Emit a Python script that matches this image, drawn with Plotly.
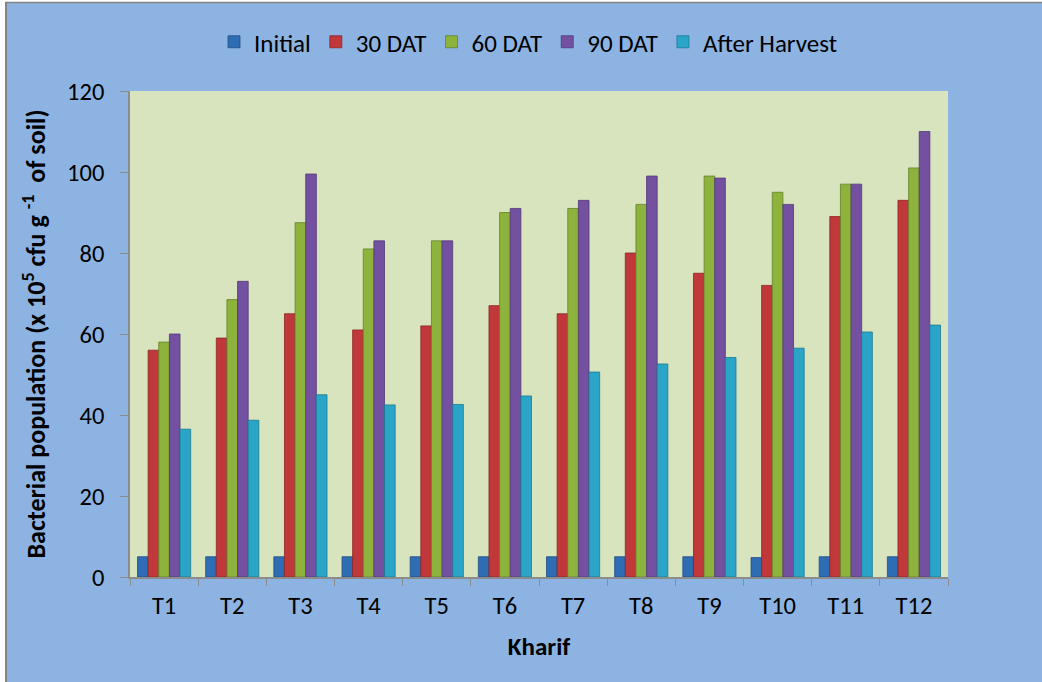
import plotly.graph_objects as go

# Treatments (Kharif season)
treatments = ["T1", "T2", "T3", "T4", "T5", "T6", "T7", "T8", "T9", "T10", "T11", "T12"]

# Bacterial population (x 10^5 cfu g-1 of soil) at each sampling stage
initial = [5, 5, 5, 5, 5, 5, 5, 5, 5, 4.8, 5, 5]
dat_30 = [56, 59, 65, 61, 62, 67, 65, 80, 75, 72, 89, 93]
dat_60 = [58, 68.5, 87.5, 81, 83, 90, 91, 92, 99, 95, 97, 101]
dat_90 = [60, 73, 99.5, 83, 83, 91, 93, 99, 98.5, 92, 97, 110]
after_harvest = [36.5, 38.7, 45, 42.5, 42.6, 44.7, 50.6, 52.6, 54.2, 56.5, 60.5, 62.2]

series = [
    ("Initial", initial, "#2E6CB3", "#1F4E85"),
    ("30 DAT", dat_30, "#C0383A", "#8E2426"),
    ("60 DAT", dat_60, "#8DB33C", "#63822A"),
    ("90 DAT", dat_90, "#7351A0", "#523877"),
    ("After Harvest", after_harvest, "#2AA5C8", "#1B7892"),
]

FONT = "Carlito, Calibri, Lato, 'Open Sans', sans-serif"
FS_LEGEND = 25
FS_TICK = 24.5
FS_TITLE = 25
FS_YTITLE = 26

fig = go.Figure()
for name, vals, fill, edge in series:
    fig.add_trace(go.Bar(
        name=name, x=treatments, y=vals,
        marker=dict(color=fill, line=dict(color=edge, width=0.8)),
    ))

# plot-area geometry in pixels, used for the outer frame and legend placement
L, R, T, B = 130, 948, 91, 577
W, H = R - L, B - T
def px(x):
    return (x - L) / W
def py(y):
    return (B - y) / H

shapes = [
    # white strip to the left and above the frame
    dict(type="rect", xref="paper", yref="paper", x0=px(-20), x1=px(5), y0=py(720), y1=py(-20),
         fillcolor="white", line=dict(width=0), layer="above"),
    dict(type="rect", xref="paper", yref="paper", x0=px(-20), x1=px(1100), y0=py(2), y1=py(-20),
         fillcolor="white", line=dict(width=0), layer="above"),
    # frame border
    dict(type="line", xref="paper", yref="paper", x0=px(6), x1=px(6), y0=py(2.5), y1=py(720),
         line=dict(color="#858585", width=2), layer="above"),
    dict(type="line", xref="paper", yref="paper", x0=px(5), x1=px(1100), y0=py(2.5), y1=py(2.5),
         line=dict(color="#858585", width=1.5), layer="above"),
]

fig.update_layout(
    width=1042, height=682,
    margin=dict(l=L, r=1042 - R, t=T, b=682 - B, pad=0),
    paper_bgcolor="#8DB3E2",
    plot_bgcolor="#D7E4BD",
    font=dict(family=FONT, size=FS_TICK, color="#000000"),
    barmode="group",
    bargap=0.22,
    bargroupgap=0,
    showlegend=True,
    legend=dict(
        orientation="h", x=px(214), xanchor="left", y=py(42), yanchor="middle",
        bgcolor="rgba(0,0,0,0)", font=dict(size=FS_LEGEND), itemclick=False,
        tracegroupgap=0, itemwidth=30,
    ),
    xaxis=dict(
        type="category", tickson="boundaries", ticks="outside", ticklen=7,
        tickcolor="#8C8C8C", showline=True, linecolor="#8C8C8C", linewidth=1.5,
        showgrid=False, tickfont=dict(size=FS_TICK), ticklabelstandoff=6,
        title=dict(text="<b>Kharif</b>", font=dict(size=FS_TITLE), standoff=17),
    ),
    yaxis=dict(
        range=[0, 120], dtick=20, ticks="outside", ticklen=8,
        tickcolor="#8C8C8C", showline=True, linecolor="#8C8C8C", linewidth=1.5,
        showgrid=False, zeroline=False, tickfont=dict(size=FS_TICK), ticklabelstandoff=11,
        title=dict(
            text="<b>Bacterial population (x 10<sup>5</sup> cfu g <sup>-1</sup>  of soil)</b>",
            font=dict(size=FS_YTITLE), standoff=14,
        ),
    ),
    shapes=shapes,
)

fig.write_html("out.html")
